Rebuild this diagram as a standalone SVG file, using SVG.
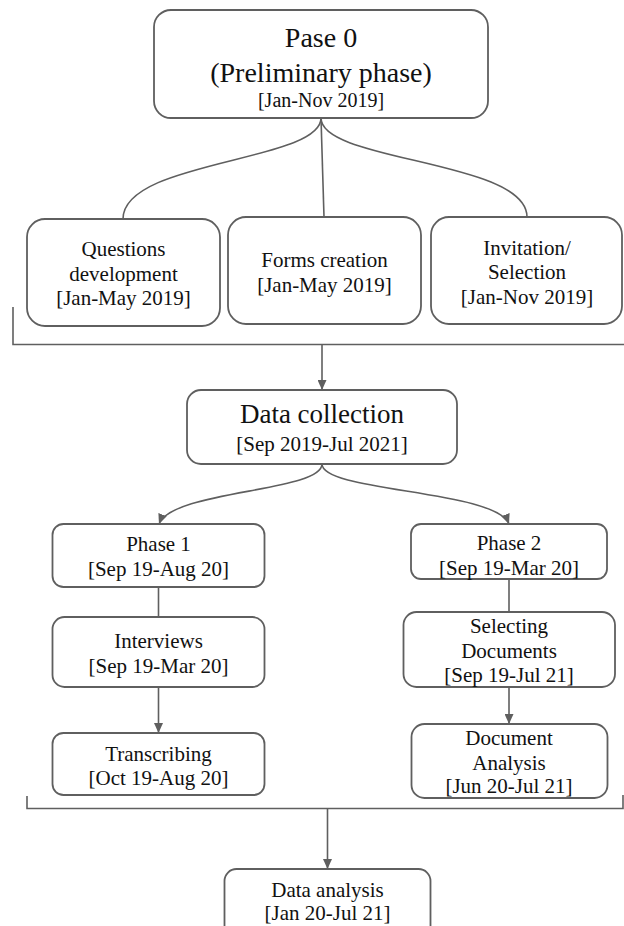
<svg xmlns="http://www.w3.org/2000/svg" width="624" height="926" viewBox="0 0 624 926">
<style>
.box{fill:#fff;stroke:#5f5f5f;stroke-width:1.8}
.ln{fill:none;stroke:#5f5f5f;stroke-width:1.6}
text{font-family:"Liberation Serif","Times New Roman",serif;fill:#111;text-anchor:middle}
.t28{font-size:28px}.t27{font-size:27px}.t21{font-size:21px}.t20{font-size:20px}
</style>
<defs>
<marker id="ah" markerUnits="userSpaceOnUse" markerWidth="10" markerHeight="9" refX="10" refY="4.5" orient="auto" viewBox="0 0 10 9">
<path d="M0,0 L10,4.5 L0,9 z" fill="#5f5f5f"/>
</marker>
</defs>
<rect width="624" height="926" fill="#fff"/>
<g id="connectors">
<path class="ln" d="M321,118 C321,162 123,160 123,219"/>
<path class="ln" d="M321,118 L324,217"/>
<path class="ln" d="M321,118 C321,162 527,160 527,217"/>
<path class="ln" d="M13,307 V344.5 H624"/>
<path class="ln" d="M322,344.5 V390" marker-end="url(#ah)"/>
<path class="ln" d="M322,464 C322,492 172,490 159,524" marker-end="url(#ah)"/>
<path class="ln" d="M322,464 C322,492 496,490 509,524" marker-end="url(#ah)"/>
<path class="ln" d="M158.5,587 V617"/>
<path class="ln" d="M158.5,687 V733" marker-end="url(#ah)"/>
<path class="ln" d="M509,579 V612"/>
<path class="ln" d="M509,687 V724" marker-end="url(#ah)"/>
<path class="ln" d="M27,796 V808.5 H623 V795"/>
<path class="ln" d="M327.5,808.5 V869" marker-end="url(#ah)"/>
</g>
<g id="pase0">
<rect class="box" x="154" y="10" width="334" height="108" rx="17"/>
<text class="t28" x="321" y="46.5">Pase 0</text>
<text class="t28" x="321" y="82">(Preliminary phase)</text>
<text class="t20" x="321" y="107">[Jan-Nov 2019]</text>
</g>
<g id="questions">
<rect class="box" x="27" y="219" width="193" height="107" rx="18"/>
<text class="t21" x="123.5" y="256">Questions</text>
<text class="t21" x="123.5" y="281">development</text>
<text class="t21" x="123.5" y="305">[Jan-May 2019]</text>
</g>
<g id="forms">
<rect class="box" x="228" y="217" width="193" height="107" rx="18"/>
<text class="t21" x="324.5" y="267">Forms creation</text>
<text class="t21" x="324.5" y="292">[Jan-May 2019]</text>
</g>
<g id="invitation">
<rect class="box" x="431" y="217" width="191" height="107" rx="18"/>
<text class="t21" x="527" y="255">Invitation/</text>
<text class="t21" x="527" y="279">Selection</text>
<text class="t21" x="527" y="304">[Jan-Nov 2019]</text>
</g>
<g id="datacollection">
<rect class="box" x="187" y="390" width="270" height="74" rx="14"/>
<text class="t27" x="322" y="423">Data collection</text>
<text class="t21" x="322" y="451">[Sep 2019-Jul 2021]</text>
</g>
<g id="phase1">
<rect class="box" x="52.5" y="524" width="212" height="63" rx="11"/>
<text class="t21" x="158.5" y="551">Phase 1</text>
<text class="t21" x="158.5" y="576">[Sep 19-Aug 20]</text>
</g>
<g id="interviews">
<rect class="box" x="52.5" y="617" width="212" height="70" rx="12"/>
<text class="t21" x="158.5" y="648">Interviews</text>
<text class="t21" x="158.5" y="673">[Sep 19-Mar 20]</text>
</g>
<g id="transcribing">
<rect class="box" x="52.5" y="733" width="212" height="62" rx="11"/>
<text class="t21" x="158.5" y="761">Transcribing</text>
<text class="t21" x="158.5" y="785">[Oct 19-Aug 20]</text>
</g>
<g id="phase2">
<rect class="box" x="411" y="524" width="196" height="55" rx="10"/>
<text class="t21" x="509" y="550">Phase 2</text>
<text class="t21" x="509" y="575">[Sep 19-Mar 20]</text>
</g>
<g id="selecting">
<rect class="box" x="403.5" y="612" width="211.5" height="75" rx="13"/>
<text class="t21" x="509" y="633">Selecting</text>
<text class="t21" x="509" y="658">Documents</text>
<text class="t21" x="509" y="682">[Sep 19-Jul 21]</text>
</g>
<g id="docanalysis">
<rect class="box" x="411.5" y="724" width="196" height="74" rx="13"/>
<text class="t21" x="509" y="745">Document</text>
<text class="t21" x="509" y="770">Analysis</text>
<text class="t21" x="509" y="793">[Jun 20-Jul 21]</text>
</g>
<g id="dataanalysis">
<rect class="box" x="224.5" y="869" width="206" height="70" rx="12"/>
<text class="t21" x="327.5" y="897">Data analysis</text>
<text class="t21" x="327.5" y="920">[Jan 20-Jul 21]</text>
</g>
</svg>
